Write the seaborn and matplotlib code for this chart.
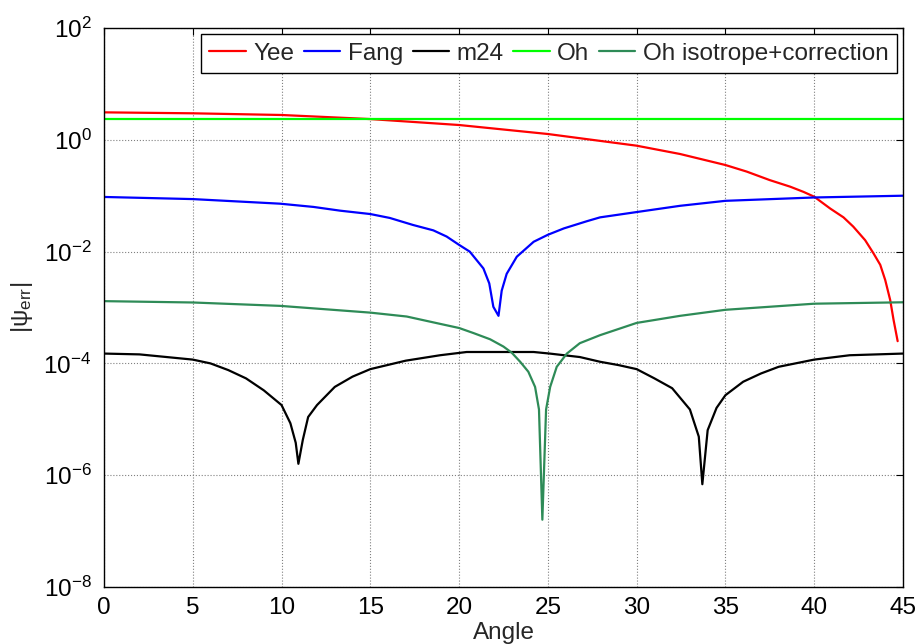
import matplotlib
matplotlib.use("Agg")
import matplotlib.pyplot as plt
import seaborn as sns
import numpy as np

# values
yee_x = [0, 2, 5, 10, 15, 20, 25, 30, 32.45, 35, 36.2, 37.5, 38.65, 39.4, 40, 40.9,
         41.65, 42.2, 42.87, 43.34, 43.72, 44.0, 44.28, 44.47, 44.7]
yee_y = [3.1, 3.05, 2.98, 2.78, 2.35, 1.84, 1.27, 0.785, 0.557, 0.354, 0.27, 0.19,
         0.145, 0.117, 0.096, 0.059, 0.041, 0.028, 0.016, 0.0093, 5.8e-3, 3.1e-3,
         1.36e-3, 6.0e-4, 2.5e-4]

fang_x = [0, 5, 9.92, 11.8, 13.3, 15, 16.1, 17.4, 18.55, 19.3, 20, 20.6, 21.37, 21.7,
          21.93, 22.22, 22.4, 22.68, 23.25, 24.2, 25, 25.9, 27.2, 27.94, 30, 32.45,
          35, 40, 45]
fang_y = [0.095, 0.087, 0.072, 0.063, 0.054, 0.047, 0.040, 0.030, 0.024, 0.0186,
          0.0132, 0.010, 5.0e-3, 2.7e-3, 1.03e-3, 7.1e-4, 2.0e-3, 4.0e-3, 8.1e-3,
          0.015, 0.020, 0.026, 0.035, 0.041, 0.051, 0.066, 0.081, 0.093, 0.1]

m24_x = [0, 2, 5, 6, 7, 8, 9, 10, 10.5, 10.8, 10.95, 11.2, 11.5, 12, 13, 14, 15, 17,
         18.93, 20.43, 24.2, 25.1, 26.8, 27.94, 29, 30, 31, 32, 33, 33.5, 33.7, 34,
         34.5, 35, 36, 37, 38, 40, 42, 45]
m24_y = [1.5e-4, 1.45e-4, 1.17e-4, 1.0e-4, 7.6e-5, 5.4e-5, 3.3e-5, 1.8e-5, 8.5e-6,
         3.8e-6, 1.6e-6, 4.3e-6, 1.1e-5, 1.8e-5, 3.8e-5, 5.8e-5, 7.9e-5, 1.12e-4,
         1.4e-4, 1.6e-4, 1.6e-4, 1.5e-4, 1.3e-4, 1.07e-4, 9.3e-5, 7.9e-5, 5.4e-5,
         3.6e-5, 1.5e-5, 4.9e-6, 6.9e-7, 6.4e-6, 1.6e-5, 2.7e-5, 4.7e-5, 6.6e-5,
         8.7e-5, 1.17e-4, 1.4e-4, 1.5e-4]

oh_x = [0, 45]
oh_y = [2.35, 2.35]

ohc_x = [0, 5, 9.92, 15, 17.05, 18.93, 20, 20.8, 21.75, 22.5, 22.97, 23.44, 23.9,
         24.28, 24.5, 24.69, 24.9, 25.13, 25.5, 26.07, 26.8, 27.94, 30, 32.45, 35,
         40, 45]
ohc_y = [1.3e-3, 1.23e-3, 1.07e-3, 8.1e-4, 6.9e-4, 5.1e-4, 4.3e-4, 3.5e-4, 2.7e-4,
         2.0e-4, 1.55e-4, 1.07e-4, 7.1e-5, 3.8e-5, 1.5e-5, 1.6e-7, 1.5e-5, 3.8e-5,
         8.7e-5, 1.5e-4, 2.3e-4, 3.2e-4, 5.3e-4, 7.1e-4, 9.1e-4, 1.17e-3, 1.24e-3]

series = [
    ("Yee", yee_x, yee_y, "#ff0000"),
    ("Fang", fang_x, fang_y, "#0000ff"),
    ("m24", m24_x, m24_y, "#000000"),
    ("Oh", oh_x, oh_y, "#00ff00"),
    ("Oh isotrope+correction", ohc_x, ohc_y, "#2e8b57"),
]

sns.set_style("white")
plt.rcParams['font.family'] = ['Liberation Sans', 'DejaVu Sans']
plt.rcParams['mathtext.fontset'] = 'custom'
plt.rcParams['mathtext.rm'] = 'Liberation Sans'
plt.rcParams['mathtext.it'] = 'Liberation Sans'
plt.rcParams['mathtext.default'] = 'regular'

fig = plt.figure(figsize=(9.2, 6.44), dpi=100)
ax = fig.add_axes([0.113, 0.0885, 0.8685, 0.868])

for name, xs, ys, col in series:
    sns.lineplot(x=xs, y=ys, color=col, label=name, linewidth=1.6, ax=ax)

ax.set_yscale('log')
ax.set_xlim(0, 45)
ax.set_ylim(1e-8, 1e2)
ax.set_xticks(np.arange(0, 46, 5))
ax.set_yticks([1e-8, 1e-6, 1e-4, 1e-2, 1e0, 1e2])
ax.yaxis.set_minor_locator(matplotlib.ticker.NullLocator())

ax.grid(True, which='major', linestyle=':', color='0.5', linewidth=0.8)
for s in ax.spines.values():
    s.set_color('black')
    s.set_linewidth(1.0)
ax.tick_params(direction='in', length=5, width=0.8, top=True, right=True,
               labelsize=17.5, colors='black')
ax.tick_params(axis='x', pad=7)
ax.tick_params(axis='y', pad=9)

ax.set_xlabel('Angle', fontsize=17.5, labelpad=2)
ax.set_ylabel(r'|$\psi_{err}$|', fontsize=17.5, labelpad=6)

leg = ax.legend(loc='upper right', bbox_to_anchor=(1 - 6 / 799, 1 - 6 / 559), ncol=5,
                fontsize=17.5, handlelength=1.5, handletextpad=0.3, columnspacing=0.4,
                borderpad=0.35, borderaxespad=0, fancybox=False, framealpha=1)
leg.get_frame().set_edgecolor('black')
leg.get_frame().set_linewidth(1.0)

fig.savefig('out.png', dpi=100)
plt.close(fig)
